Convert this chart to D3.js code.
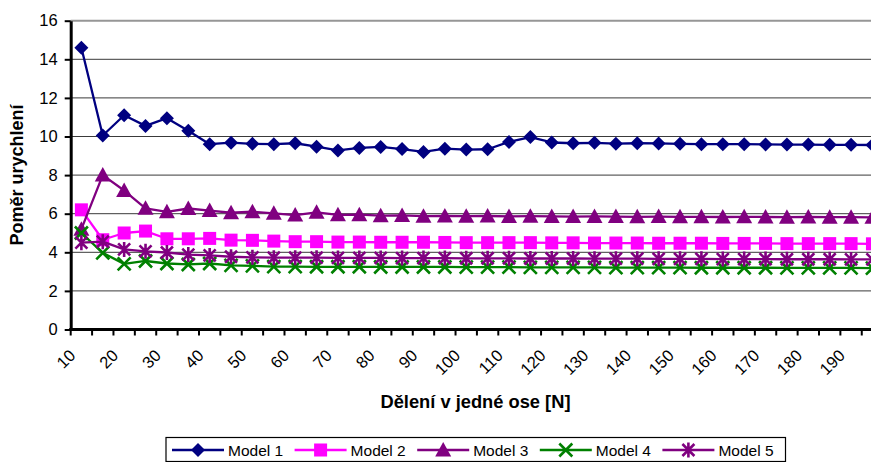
<!DOCTYPE html>
<html>
<head>
<meta charset="utf-8">
<script src="https://cdn.jsdelivr.net/npm/d3@7"></script>
<style>
  html, body { margin: 0; padding: 0; background: #fff; }
  svg { display: block; font-family: Arial, "Liberation Sans", sans-serif; }
</style>
</head>
<body>
<svg id="chart" width="871" height="462"></svg>
<script>
// Mesh divisions along one axis
const categories = [10, 15, 20, 25, 30, 35, 40, 45, 50, 55, 60, 65, 70, 75, 80, 85, 90, 95, 100,
  105, 110, 115, 120, 125, 130, 135, 140, 145, 150, 155, 160, 165, 170, 175, 180, 185, 190, 195];

// Speed-up ratio per model
const model1 = [14.6, 10.05, 11.1, 10.55, 10.95, 10.3, 9.6, 9.68, 9.62, 9.6, 9.65, 9.47, 9.28, 9.41, 9.46,
  9.35, 9.2, 9.37, 9.32, 9.34, 9.72, 9.97, 9.69, 9.65, 9.67, 9.63, 9.65, 9.64, 9.62, 9.6, 9.6, 9.6, 9.59,
  9.58, 9.58, 9.57, 9.57, 9.56];
const model2 = [6.2, 4.65, 5.0, 5.1, 4.7, 4.7, 4.72, 4.63, 4.62, 4.58, 4.55, 4.55, 4.53, 4.53, 4.52, 4.52,
  4.52, 4.51, 4.5, 4.5, 4.5, 4.5, 4.49, 4.49, 4.48, 4.48, 4.48, 4.47, 4.47, 4.47, 4.46, 4.46, 4.46, 4.45,
  4.45, 4.45, 4.45, 4.44];
const model3 = [5.2, 8.0, 7.2, 6.28, 6.1, 6.27, 6.16, 6.05, 6.1, 6.02, 5.93, 6.07, 5.94, 5.95, 5.9, 5.91,
  5.87, 5.88, 5.87, 5.88, 5.86, 5.87, 5.86, 5.85, 5.86, 5.85, 5.84, 5.85, 5.84, 5.84, 5.83, 5.84, 5.83,
  5.82, 5.83, 5.82, 5.82, 5.81];
const model4 = [5.0, 3.97, 3.4, 3.55, 3.42, 3.37, 3.42, 3.32, 3.3, 3.26, 3.26, 3.25, 3.25, 3.25, 3.24, 3.24,
  3.24, 3.24, 3.23, 3.23, 3.23, 3.22, 3.22, 3.22, 3.22, 3.21, 3.21, 3.21, 3.21, 3.2, 3.2, 3.2, 3.2, 3.19,
  3.19, 3.19, 3.19, 3.18];
const model5 = [4.5, 4.55, 4.15, 4.05, 3.99, 3.88, 3.84, 3.77, 3.74, 3.72, 3.72, 3.72, 3.71, 3.71, 3.71,
  3.7, 3.7, 3.7, 3.69, 3.69, 3.69, 3.68, 3.68, 3.68, 3.67, 3.67, 3.67, 3.66, 3.66, 3.66, 3.65, 3.65, 3.65,
  3.64, 3.64, 3.64, 3.63, 3.63];

const seriesNames = ["Model 1", "Model 2", "Model 3", "Model 4", "Model 5"];
const seriesColors = ["#000080", "#FF00FF", "#800080", "#008000", "#800080"];
const seriesMarkers = ["diamond", "square", "triangle", "cross", "star"];
const yTicks = [0, 2, 4, 6, 8, 10, 12, 14, 16];

const series = [model1, model2, model3, model4, model5].map((values, i) => ({
  name: seriesNames[i], color: seriesColors[i], marker: seriesMarkers[i], values
}));

const svg = d3.select("#chart");
const plot = { left: 70.7, top: 20.7, bottom: 329.5 };
const step = 21.38;

const x = d3.scaleBand()
  .domain(categories)
  .range([plot.left, plot.left + step * categories.length])
  .paddingInner(0).paddingOuter(0);
const cx = v => x(v) + x.bandwidth() / 2;

const y = d3.scaleLinear().domain([0, 16]).range([plot.bottom, plot.top]);

// Horizontal gridlines
svg.append("g")
  .selectAll("line")
  .data(yTicks.filter(t => t > 0 && t < 16))
  .join("line")
  .attr("x1", plot.left).attr("x2", x.range()[1])
  .attr("y1", d => y(d)).attr("y2", d => y(d))
  .attr("stroke", "#3a3a3a").attr("stroke-width", 1);

// Plot-area top border
svg.append("line")
  .attr("x1", plot.left).attr("x2", x.range()[1])
  .attr("y1", y(16)).attr("y2", y(16))
  .attr("stroke", "#969696").attr("stroke-width", 2);

// Y axis
const yAxis = d3.axisLeft(y).tickValues(yTicks).tickSize(6).tickPadding(7).tickSizeOuter(0);
const gy = svg.append("g").attr("transform", `translate(${plot.left},0)`).call(yAxis);
gy.select(".domain").attr("stroke", "#000").attr("stroke-width", 3);
gy.selectAll(".tick line").attr("stroke", "#000").attr("stroke-width", 2);
gy.selectAll(".tick text").attr("font-size", 16.5).attr("fill", "#000")
  .attr("font-family", "Arial, 'Liberation Sans', sans-serif");

// X axis: tick marks between categories
const tickPositions = d3.range(categories.length + 1).map(i => plot.left + i * step);
const gx = svg.append("g");
gx.append("line")
  .attr("x1", plot.left - 1.5).attr("x2", x.range()[1])
  .attr("y1", plot.bottom).attr("y2", plot.bottom)
  .attr("stroke", "#000").attr("stroke-width", 3);
gx.selectAll("line.tk")
  .data(tickPositions)
  .join("line").attr("class", "tk")
  .attr("x1", d => d).attr("x2", d => d)
  .attr("y1", plot.bottom).attr("y2", plot.bottom + 6)
  .attr("stroke", "#000").attr("stroke-width", 2);
gx.selectAll("text")
  .data(categories.filter((c, i) => i % 2 === 0))
  .join("text")
  .attr("transform", d => `translate(${cx(d) - 5},${plot.bottom + 27}) rotate(-45)`)
  .attr("text-anchor", "end")
  .attr("font-size", 16.5)
  .attr("fill", "#000")
  .text(d => d);

// Marker shapes
function drawMarker(g, type, color) {
  switch (type) {
    case "diamond":
      g.append("path").attr("d", "M0,-7L7,0L0,7L-7,0Z").attr("fill", color);
      break;
    case "square":
      g.append("rect").attr("x", -6.5).attr("y", -6.5).attr("width", 13).attr("height", 13).attr("fill", color);
      break;
    case "triangle":
      g.append("path").attr("d", "M0,-8L8,6.5L-8,6.5Z").attr("fill", color);
      break;
    case "cross":
      g.append("path").attr("d", "M-6.5,-6.5L6.5,6.5M-6.5,6.5L6.5,-6.5")
        .attr("stroke", color).attr("stroke-width", 2.6).attr("fill", "none");
      break;
    case "star":
      g.append("path").attr("d", "M-6,-6L6,6M-6,6L6,-6M0,-7.5L0,7.5")
        .attr("stroke", color).attr("stroke-width", 2.6).attr("fill", "none");
      break;
  }
}

// Series: line then markers, drawn in order
const line = d3.line().x((d, i) => cx(categories[i])).y(d => y(d));
series.forEach(s => {
  const g = svg.append("g");
  g.append("path")
    .attr("d", line(s.values))
    .attr("fill", "none")
    .attr("stroke", s.color)
    .attr("stroke-width", 2.3)
    .attr("stroke-linejoin", "round");
  g.selectAll("g.mk")
    .data(s.values)
    .join("g").attr("class", "mk")
    .attr("transform", (d, i) => `translate(${cx(categories[i])},${y(d)})`)
    .each(function () { drawMarker(d3.select(this), s.marker, s.color); });
});

// Axis titles
svg.append("text")
  .attr("transform", "translate(22.5,175) rotate(-90)")
  .attr("text-anchor", "middle")
  .attr("font-size", 18).attr("font-weight", "bold")
  .text("Poměr urychlení");

svg.append("text")
  .attr("x", 475.5).attr("y", 408)
  .attr("text-anchor", "middle")
  .attr("font-size", 18.3).attr("font-weight", "bold")
  .text("Dělení v jedné ose [N]");

// Legend
const legend = svg.append("g");
legend.append("rect")
  .attr("x", 166).attr("y", 437.5).attr("width", 619.5).attr("height", 24)
  .attr("fill", "#fff").attr("stroke", "#000").attr("stroke-width", 1.2);
series.forEach((s, i) => {
  const x0 = 172 + i * 122.6;
  const g = legend.append("g").attr("transform", `translate(${x0},450)`);
  g.append("line").attr("x1", 0).attr("x2", 52).attr("y1", 0).attr("y2", 0)
    .attr("stroke", s.color).attr("stroke-width", 2.3);
  drawMarker(g.append("g").attr("transform", "translate(26,0)"), s.marker, s.color);
  g.append("text").attr("x", 56).attr("y", 6).attr("font-size", 15.5).attr("fill", "#000").text(s.name);
});
</script>
</body>
</html>
